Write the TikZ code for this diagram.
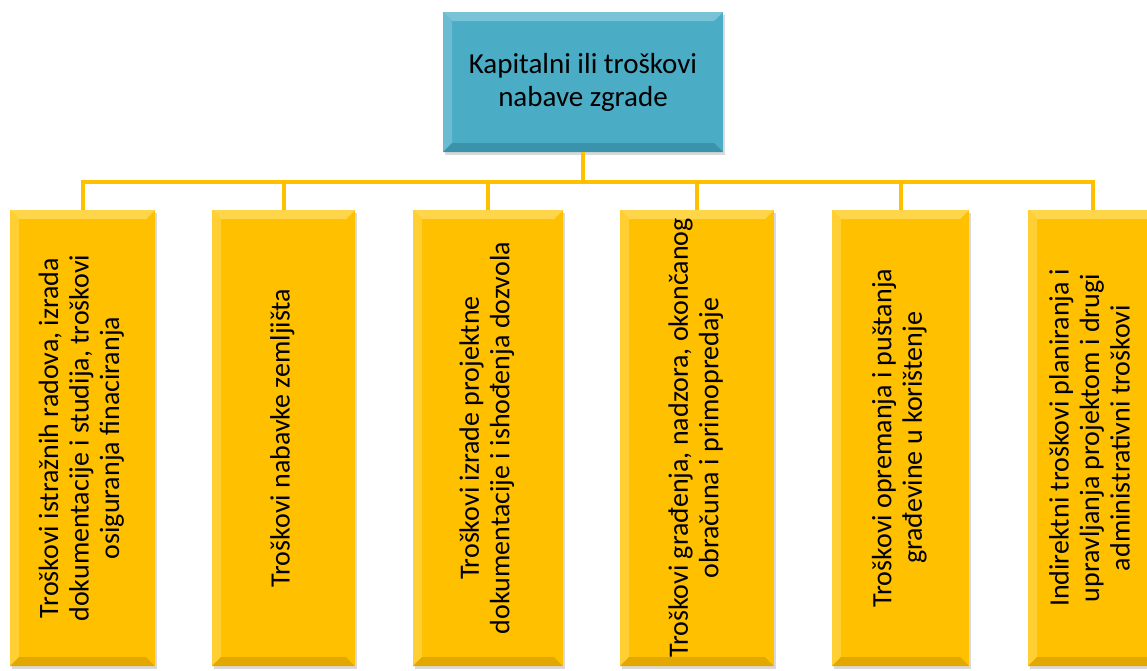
\documentclass[tikz,border=0pt]{standalone}
\usepackage{fontspec}
\setmainfont{Carlito}
\usetikzlibrary{calc,shadows}

\definecolor{gold}{HTML}{FFC000}
\definecolor{goldlight}{HTML}{FFD64A}
\definecolor{golddark}{HTML}{E3A800}
\definecolor{tealbox}{HTML}{4BACC6}
\definecolor{teallight}{HTML}{79C3D7}
\definecolor{tealdark}{HTML}{3A93AB}
\newlength{\bw}\setlength{\bw}{9pt}

\newcommand{\vtext}[1]{\rotatebox{90}{\begin{tabular}{@{}c@{}}#1\end{tabular}}}

\tikzset{
	bevel/.style n args={3}{fill=#1, draw=none, inner sep=0pt,
		drop shadow={shadow xshift=2pt, shadow yshift=-3pt, opacity=.3},
		path picture={
			\coordinate (p1) at (path picture bounding box.north west);
			\coordinate (p2) at (path picture bounding box.north east);
			\coordinate (p3) at (path picture bounding box.south east);
			\coordinate (p4) at (path picture bounding box.south west);
			\fill[#2] (p1) -- (p2) -- ($(p2)+(-\bw,-\bw)$) -- ($(p1)+(\bw,-\bw)$) -- cycle;
			\fill[#2!70!#1] (p1) -- (p4) -- ($(p4)+(\bw,\bw)$) -- ($(p1)+(\bw,-\bw)$) -- cycle;
			\fill[#3] (p4) -- (p3) -- ($(p3)+(-\bw,\bw)$) -- ($(p4)+(\bw,\bw)$) -- cycle;
		}},
	topbox/.style={bevel={tealbox}{teallight}{tealdark}, minimum width=280pt, minimum height=140pt,
		align=center, font=\fontsize{29}{33}\selectfont},
	costbox/.style={bevel={gold}{goldlight}{golddark}, minimum height=456pt,
		font=\fontsize{28}{30.5}\selectfont},
	conn/.style={draw=gold, line width=4pt},
}

\begin{document}
\begin{tikzpicture}[x=1pt, y=-1pt]
	\useasboundingbox (0,0) rectangle (1147,670);

	\node[topbox] (cap) at (583,82) {Kapitalni ili troškovi\\nabave zgrade};

	\node[costbox, minimum width=145pt] (b1) at (82.5,438) {\vtext{Troškovi istražnih radova, izrada\\dokumentacije i studija, troškovi\\osiguranja finaciranja}};
	\node[costbox, minimum width=143pt] (b2) at (283.5,438) {\vtext{Troškovi nabavke zemljišta}};
	\node[costbox, minimum width=150pt] (b3) at (488,438) {\vtext{Troškovi izrade projektne\\dokumentacije i ishođenja dozvola}};
	\node[costbox, minimum width=154pt] (b4) at (697,438) {\vtext{Troškovi građenja, nadzora, okončanog\\obračuna i primopredaje}};
	\node[costbox, minimum width=137pt] (b5) at (900.5,438) {\vtext{Troškovi opremanja i puštanja\\građevine u korištenje}};
	\node[costbox, minimum width=130pt] (b6) at (1093,438) {\vtext{Indirektni troškovi planiranja i\\upravljanja projektom i drugi\\administrativni troškovi}};

	\coordinate (bus) at (583,182);
	\draw[conn] (cap.south) -- (bus);
	\foreach \i in {1,...,6}
		\draw[conn] (bus) -| (b\i.north);
\end{tikzpicture}
\end{document}
